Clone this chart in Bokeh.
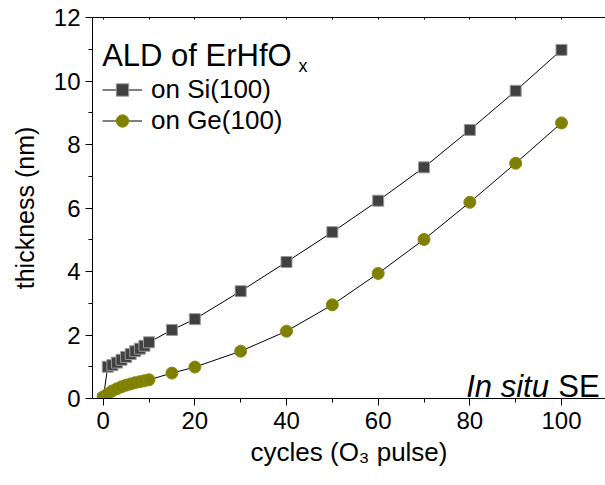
from bokeh.plotting import figure
from bokeh.models import Range1d, FixedTicker, LinearAxis, Label, Legend, LegendItem
from bokeh.embed import file_html
from bokeh.resources import INLINE

# ---- data ----
cycles_si = [0, 1, 2, 3, 4, 5, 6, 7, 8, 9, 10, 15, 20, 30, 40, 50, 60, 70, 80, 90, 100]
thick_si = [0.0, 1.0, 1.05, 1.13, 1.22, 1.31, 1.40, 1.49, 1.57, 1.66, 1.77, 2.16, 2.50,
            3.38, 4.30, 5.24, 6.23, 7.28, 8.46, 9.69, 10.98]
cycles_ge = [0, 1, 2, 3, 4, 5, 6, 7, 8, 9, 10, 15, 20, 30, 40, 50, 60, 70, 80, 90, 100]
thick_ge = [0.05, 0.15, 0.24, 0.31, 0.37, 0.42, 0.46, 0.50, 0.53, 0.56, 0.59, 0.80, 0.99,
            1.49, 2.12, 2.95, 3.94, 5.01, 6.18, 7.41, 8.68]

x_major = [0, 20, 40, 60, 80, 100]
x_minor = [10, 30, 50, 70, 90]
y_major = [0, 2, 4, 6, 8, 10, 12]
y_minor = [1, 3, 5, 7, 9, 11]

FONT = "Liberation Sans"

p = figure(width=605, height=485, x_range=Range1d(-2.33, 109.6), y_range=Range1d(0, 12),
           output_backend="svg", toolbar_location=None,
           min_border_left=92, min_border_right=0, min_border_top=17, min_border_bottom=87)
p.outline_line_color = None
p.xgrid.visible = False
p.ygrid.visible = False
p.background_fill_color = "white"

# bottom axis
xa = p.xaxis[0]
xa.ticker = FixedTicker(ticks=x_major, minor_ticks=x_minor)
xa.major_tick_out = 7
xa.major_tick_in = 0
xa.minor_tick_out = 4
xa.minor_tick_in = 0
xa.major_label_text_font = FONT
xa.major_label_text_font_size = "24px"
xa.major_label_text_color = "black"
xa.major_label_standoff = 6
xa.axis_label = "cycles (O\u2083 pulse)"
xa.axis_label_text_font = FONT
xa.axis_label_text_font_size = "26px"
xa.axis_label_text_font_style = "normal"
xa.axis_label_text_color = "black"
xa.axis_label_standoff = 5
xa.axis_line_color = "black"
xa.major_tick_line_color = "black"
xa.minor_tick_line_color = "black"

# left axis
ya = p.yaxis[0]
ya.ticker = FixedTicker(ticks=y_major, minor_ticks=y_minor)
ya.major_tick_out = 7
ya.major_tick_in = 0
ya.minor_tick_out = 4
ya.minor_tick_in = 0
ya.major_label_text_font = FONT
ya.major_label_text_font_size = "24px"
ya.major_label_text_color = "black"
ya.major_label_standoff = 5
ya.axis_label = "thickness (nm)"
ya.axis_label_text_font = FONT
ya.axis_label_text_font_size = "25px"
ya.axis_label_text_font_style = "normal"
ya.axis_label_text_color = "black"
ya.axis_label_standoff = 12
ya.axis_line_color = "black"
ya.major_tick_line_color = "black"
ya.minor_tick_line_color = "black"

# top axis: frame line with tiny inward ticks, no labels
top = LinearAxis(ticker=FixedTicker(ticks=[], minor_ticks=x_major + x_minor),
                 major_tick_in=0, major_tick_out=0, minor_tick_in=2, minor_tick_out=0,
                 axis_line_color="black", minor_tick_line_color="black")
p.add_layout(top, "above")

# data
l_si = p.line(cycles_si, thick_si, line_color="black", line_width=1)
m_si = p.scatter(cycles_si, thick_si, marker="square", size=11,
                 fill_color="#404040", line_color="#9a9a9a", line_width=1)
l_ge = p.line(cycles_ge, thick_ge, line_color="black", line_width=1)
m_ge = p.scatter(cycles_ge, thick_ge, marker="circle", size=12,
                 fill_color="#808000", line_color="#8a8a10", line_width=1)

legend = Legend(items=[LegendItem(label="on Si(100)", renderers=[l_si, m_si]),
                       LegendItem(label="on Ge(100)", renderers=[l_ge, m_ge])],
                location=(10, 262), padding=0, margin=0, spacing=0,
                glyph_width=40, glyph_height=31, label_height=31, label_standoff=9,
                border_line_color=None, background_fill_alpha=0,
                label_text_font=FONT, label_text_font_size="26px",
                label_text_color="black")
p.add_layout(legend)

# texts inside the frame
def lab(x, y, text, size, style="normal"):
    p.add_layout(Label(x=x, y=y, text=text, text_font=FONT, text_font_size=size,
                       text_font_style=style, text_color="black",
                       text_baseline="alphabetic", text_align="left"))

lab(-0.22, 10.79, "ALD of ErHfO", "31px")
lab(42.6, 10.47, "x", "18px")
lab(79.2, 0.39, "In situ", "31px", "italic")
lab(99.3, 0.39, "SE", "31px")

open("out.html", "w").write(file_html(p, INLINE))
